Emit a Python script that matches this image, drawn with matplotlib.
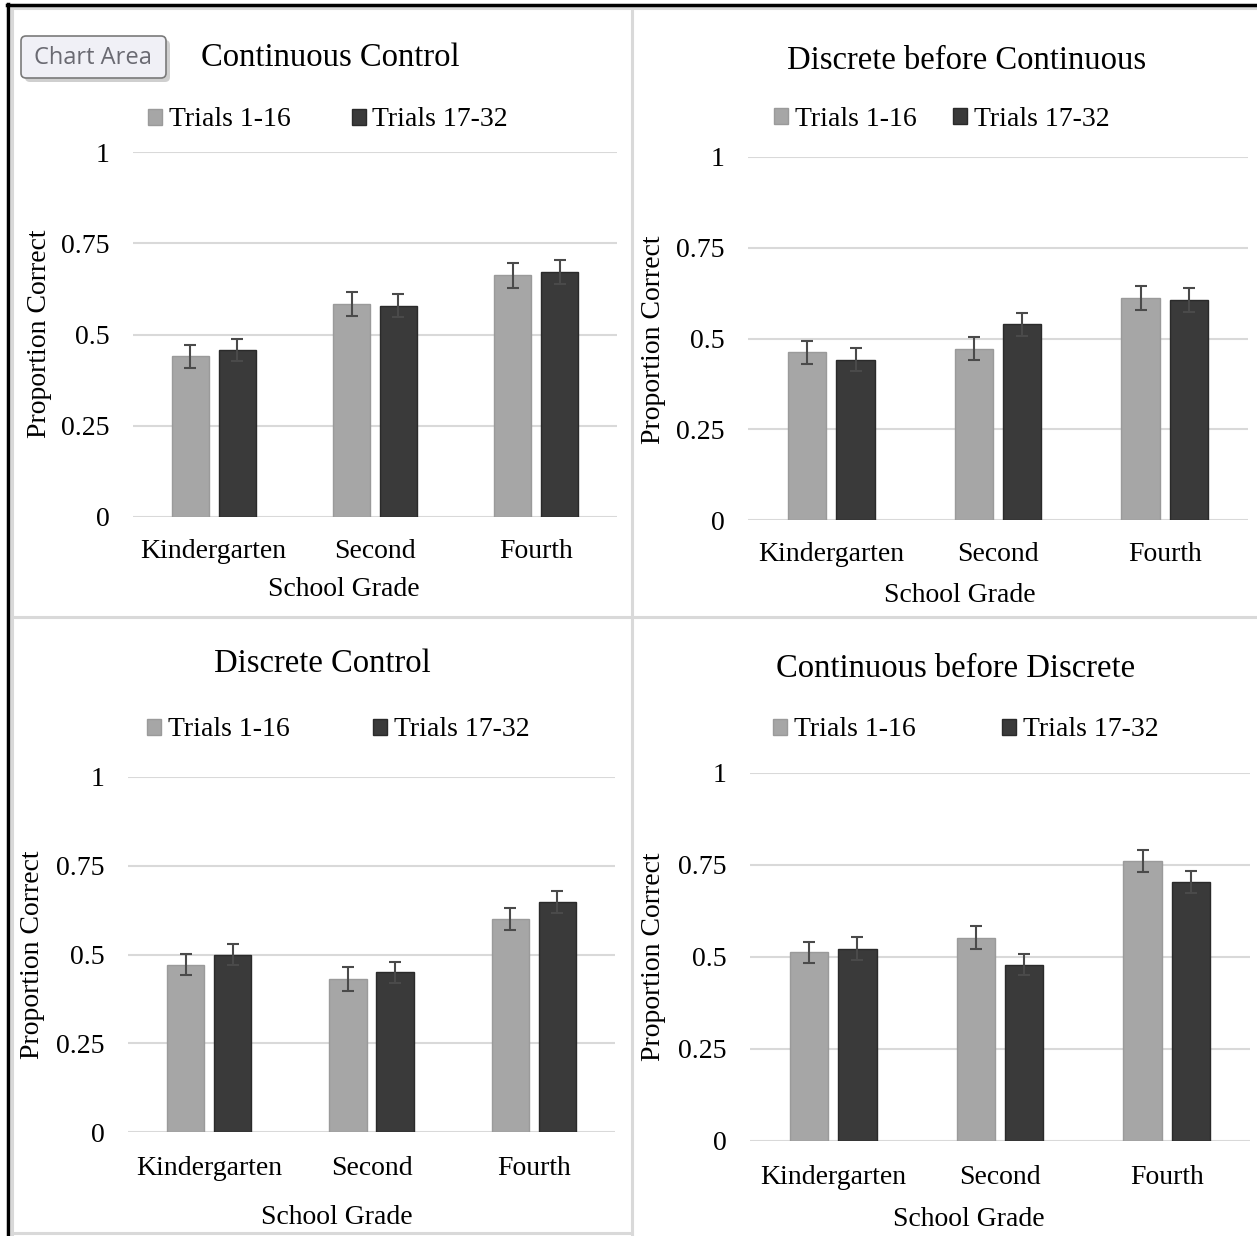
import numpy as np
import matplotlib
matplotlib.use('Agg')
import matplotlib.pyplot as plt
from matplotlib.patches import FancyBboxPatch
from matplotlib.lines import Line2D

# Proportion correct by grade, four conditions, two trial blocks

grades = ['Kindergarten', 'Second', 'Fourth']
series = ['Trials 1-16', 'Trials 17-32']

titles = ['Continuous Control', 'Discrete before Continuous',
          'Discrete Control', 'Continuous before Discrete']

early = [[0.44, 0.584, 0.662],
         [0.462, 0.472, 0.612],
         [0.471, 0.431, 0.600],
         [0.513, 0.552, 0.762]]
late = [[0.458, 0.579, 0.671],
        [0.442, 0.539, 0.606],
        [0.500, 0.450, 0.648],
        [0.522, 0.479, 0.704]]
early_err = [[0.031, 0.032, 0.034],
             [0.031, 0.032, 0.033],
             [0.030, 0.033, 0.030],
             [0.029, 0.031, 0.030]]
late_err = [[0.031, 0.031, 0.034],
            [0.032, 0.031, 0.032],
            [0.030, 0.029, 0.030],
            [0.031, 0.029, 0.029]]

yticks = [0, 0.25, 0.5, 0.75, 1]
ytick_labels = ['0', '0.25', '0.5', '0.75', '1']

# Layout {{{
W, H = 1257, 1236
plt.rcParams['font.family'] = ['Liberation Serif', 'DejaVu Serif']
fig = plt.figure(figsize=(W / 100, H / 100), dpi=100)

def fx(x): return x / W
def fy(y): return 1 - y / H

# axes boxes in pixels: left, right, top, bottom
boxes = [(133, 617, 152, 517), (748, 1248, 157, 520),
         (128, 615, 777, 1132), (750, 1250, 773, 1141)]
title_pos = [(330, 58), (967, 61), (322, 664), (956, 669)]
legend_pos = [(328, 120), (942, 119), (338, 730), (966, 730)]
legend_gap = [2.2, 1.3, 3.0, 3.1]
ylabel_pos = [(40, 334), (654, 340), (33, 955), (653, 957)]
xlabel_pos = [(344, 590), (960, 595), (337, 1217), (969, 1220)]
xpad = [16, 16, 17, 17]
#}}}

light, dark = '#a6a6a6', '#3a3a3a'
grid_c = '#d9d9d9'
w = 0.23
off = 0.145
x = np.arange(len(grades))

for i in range(4):
    l, r, t, b = boxes[i]
    ax = fig.add_axes([fx(l), fy(b), (r - l) / W, (b - t) / H])
    ebar = dict(ecolor='#4a4a4a', elinewidth=1.5, capsize=4.5, capthick=1.5)
    b1 = ax.bar(x - off, early[i], w, yerr=early_err[i], color=light,
                edgecolor='#9a9a9a', linewidth=1, error_kw=ebar, zorder=3,
                label=series[0])
    b2 = ax.bar(x + off, late[i], w, yerr=late_err[i], color=dark,
                edgecolor='#2a2a2a', linewidth=1, error_kw=ebar, zorder=3,
                label=series[1])
    ax.set_xlim(-0.5, 2.5)
    ax.set_ylim(0, 1)
    ax.set_yticks(yticks)
    ax.set_yticklabels(ytick_labels)
    ax.set_xticks(x)
    ax.set_xticklabels(grades)
    ax.tick_params(axis='both', length=0, labelsize=20)
    ax.tick_params(axis='y', pad=17)
    ax.tick_params(axis='x', pad=xpad[i])
    for s in ax.spines.values():
        s.set_visible(False)
    ax.grid(axis='y', color=grid_c, linewidth=1.5, zorder=0)
    ax.set_axisbelow(True)

    ax.set_ylabel('Proportion Correct', fontsize=20, va='center', ha='center')
    ax.yaxis.set_label_coords(fx(ylabel_pos[i][0]), fy(ylabel_pos[i][1]),
                              transform=fig.transFigure)
    ax.set_xlabel('School Grade', fontsize=20, va='center', ha='center')
    ax.xaxis.set_label_coords(fx(xlabel_pos[i][0]), fy(xlabel_pos[i][1]),
                              transform=fig.transFigure)

    fig.text(fx(title_pos[i][0]), fy(title_pos[i][1]), titles[i],
             fontsize=23.5, ha='center', va='center')

    fig.legend(handles=[b1, b2], labels=series, loc='center',
               bbox_to_anchor=(fx(legend_pos[i][0]), fy(legend_pos[i][1])),
               ncol=2, frameon=False, fontsize=20, handlelength=0.5,
               handleheight=0.5, handletextpad=0.25,
               columnspacing=legend_gap[i], borderpad=0, borderaxespad=0)

# panel borders {{{
lines = [([12, 12], [8, 1234]), ([632, 632], [8, 1236]),
         ([12, 1257], [617, 617]), ([12, 632], [1233, 1233]),
         ([12, 1257], [8, 8])]
for xs, ys in lines:
    fig.add_artist(Line2D([fx(v) for v in xs], [fy(v) for v in ys],
                          color=grid_c, linewidth=2.2))
fig.add_artist(Line2D([fx(7), fx(1257)], [fy(5), fy(5)], color='black', linewidth=2.5))
fig.add_artist(Line2D([fx(8), fx(8)], [fy(4), fy(1236)], color='black', linewidth=2.5))
#}}}

# "Chart Area" tooltip {{{
shadow = FancyBboxPatch((fx(25), fy(82)), fx(145), 42 / H,
                        boxstyle='round,pad=0,rounding_size=0.004',
                        transform=fig.transFigure, facecolor='#b0b0b0',
                        edgecolor='none', alpha=0.6)
tip = FancyBboxPatch((fx(21), fy(78)), fx(145), 42 / H,
                     boxstyle='round,pad=0,rounding_size=0.004',
                     transform=fig.transFigure, facecolor='#f0f0f6',
                     edgecolor='#7a7a7a', linewidth=1.2)
fig.patches.extend([shadow, tip])
fig.text(fx(93), fy(58), 'Chart Area', family=['Open Sans', 'DejaVu Sans'],
         fontsize=17, color='#6a6a72', ha='center', va='center')
#}}}

plt.savefig('out.png', dpi=100)
